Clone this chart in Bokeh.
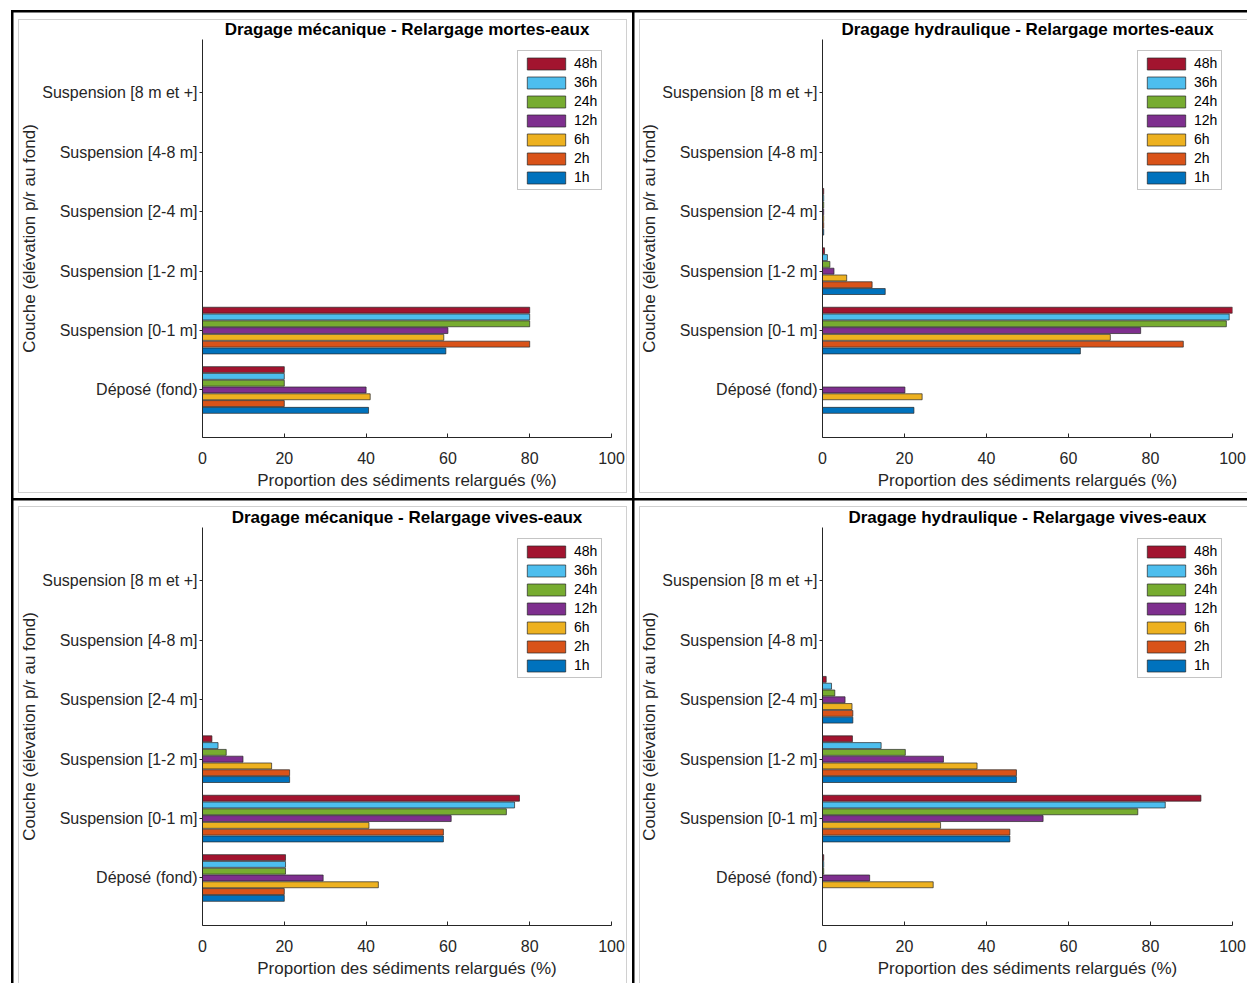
from bokeh.plotting import figure
from bokeh.models import Range1d, FixedTicker, Legend, LegendItem, ColumnDataSource
from bokeh.layouts import gridplot
from bokeh.transform import dodge
from bokeh.embed import file_html
from bokeh.resources import INLINE

# ---------------- data ----------------
layers = ["Déposé (fond)", "Suspension [0-1 m]", "Suspension [1-2 m]",
          "Suspension [2-4 m]", "Suspension [4-8 m]", "Suspension [8 m et +]"]
layer_pos = [1, 2, 3, 4, 5, 6]
hours = ["1h", "2h", "6h", "12h", "24h", "36h", "48h"]
colors = ["#0072BD", "#D95319", "#EDB120", "#7E2F8E", "#77AC30", "#4DBEEE", "#A2142F"]
x_ticks = [0, 20, 40, 60, 80, 100]

titles = ["Dragage mécanique - Relargage mortes-eaux",
          "Dragage hydraulique - Relargage mortes-eaux",
          "Dragage mécanique - Relargage vives-eaux",
          "Dragage hydraulique - Relargage vives-eaux"]
x_label = "Proportion des sédiments relargués (%)"
y_label = "Couche (élévation p/r au fond)"

# values per hour, in the order of `layers`
meca_mortes = {
    "1h":  [40.6, 59.5, 0, 0, 0, 0],
    "2h":  [20.0, 80.0, 0, 0, 0, 0],
    "6h":  [41.0, 59.0, 0, 0, 0, 0],
    "12h": [40.0, 60.0, 0, 0, 0, 0],
    "24h": [20.0, 80.0, 0, 0, 0, 0],
    "36h": [20.0, 80.0, 0, 0, 0, 0],
    "48h": [20.0, 80.0, 0, 0, 0, 0],
}
hydro_mortes = {
    "1h":  [22.3, 62.9, 15.3, 0.3, 0, 0],
    "2h":  [0.0, 88.0, 12.1, 0.3, 0, 0],
    "6h":  [24.3, 70.2, 5.9, 0.3, 0, 0],
    "12h": [20.1, 77.6, 2.8, 0.3, 0, 0],
    "24h": [0.0, 98.5, 1.8, 0.3, 0, 0],
    "36h": [0.0, 99.2, 1.2, 0.3, 0, 0],
    "48h": [0.0, 100.0, 0.5, 0.3, 0, 0],
}
meca_vives = {
    "1h":  [20.0, 58.9, 21.3, 0, 0, 0],
    "2h":  [20.0, 58.9, 21.3, 0, 0, 0],
    "6h":  [43.0, 40.7, 16.9, 0, 0, 0],
    "12h": [29.5, 60.8, 9.9, 0, 0, 0],
    "24h": [20.3, 74.3, 5.8, 0, 0, 0],
    "36h": [20.3, 76.3, 3.8, 0, 0, 0],
    "48h": [20.3, 77.5, 2.3, 0, 0, 0],
}
hydro_vives = {
    "1h":  [0.0, 45.7, 47.3, 7.4, 0, 0],
    "2h":  [0.0, 45.7, 47.3, 7.4, 0, 0],
    "6h":  [27.0, 28.8, 37.7, 7.2, 0, 0],
    "12h": [11.5, 53.8, 29.5, 5.5, 0, 0],
    "24h": [0.3, 76.9, 20.2, 3.0, 0, 0],
    "36h": [0.3, 83.6, 14.3, 2.2, 0, 0],
    "48h": [0.3, 92.3, 7.3, 0.9, 0, 0],
}

# ---------------- style ----------------
FONT = "Liberation Sans"
TXT = "#262626"
GRAY = "#d0d0d0"
PITCH = 0.8 / 7
BAR_H = 0.1


def frame_shadow(left_white, top_white, ring_l, ring_t, ring_r, ring_b):
    """CSS inset shadows drawing the black separator lines (left/top) and the
    light grey inner frame of each panel."""
    a, b, c, d = [], [], [], []
    if left_white:
        a.append(f"inset {left_white}px 0 0 0 white")
    b.append(f"inset {left_white + 2.5}px 0 0 0 black")
    if top_white:
        a.append(f"inset 0 {top_white}px 0 0 white")
    b.append(f"inset 0 {top_white + 2.5}px 0 0 black")
    if ring_l is not None:
        c.append(f"inset {ring_l}px 0 0 0 white"); d.append(f"inset {ring_l + 1}px 0 0 0 {GRAY}")
    if ring_t is not None:
        c.append(f"inset 0 {ring_t}px 0 0 white"); d.append(f"inset 0 {ring_t + 1}px 0 0 {GRAY}")
    if ring_r is not None:
        c.append(f"inset -{ring_r}px 0 0 0 white"); d.append(f"inset -{ring_r + 1}px 0 0 0 {GRAY}")
    if ring_b is not None:
        c.append(f"inset 0 -{ring_b}px 0 0 white"); d.append(f"inset 0 -{ring_b + 1}px 0 0 {GRAY}")
    return ", ".join(a + b + c + d)


def build(title, data, width, height, mb_left, mb_right, mb_top, mb_bottom, shadow):
    p = figure(width=width, height=height,
               x_range=Range1d(0, 100), y_range=Range1d(0.2, 6.9),
               output_backend="svg", toolbar_location=None, tools="",
               min_border_left=mb_left, min_border_right=mb_right,
               min_border_top=mb_top, min_border_bottom=mb_bottom,
               background_fill_color=None, border_fill_color=None,
               outline_line_color=None, title=title,
               styles={"box-shadow": shadow})
    p.grid.visible = False

    items = []
    for i, h in enumerate(hours):
        src = ColumnDataSource(dict(pos=layer_pos, v=data[h]))
        r = p.hbar(y=dodge("pos", (i - 3) * PITCH), left=0, right="v", height=BAR_H,
                   source=src, fill_color=colors[i], line_color="#262626",
                   line_width=0.7)
        items.append(LegendItem(label=h, renderers=[r]))

    legend = Legend(items=items[::-1], location=(315, 247), margin=0,
                    glyph_width=48, glyph_height=15, label_height=15,
                    spacing=3, padding=4, label_standoff=4,
                    label_text_font=FONT, label_text_font_size="14px",
                    label_text_color="#000000",
                    border_line_color="#8a8a8a", border_line_width=1,
                    background_fill_color="white", background_fill_alpha=1.0)
    p.add_layout(legend)

    p.title.align = "center"
    p.title.text_font = FONT
    p.title.text_font_size = "17px"
    p.title.text_font_style = "bold"
    p.title.text_color = "#000000"
    p.title.standoff = 2

    xa = p.xaxis[0]
    xa.ticker = FixedTicker(ticks=x_ticks)
    xa.major_tick_in = 4
    xa.major_tick_out = 0
    xa.minor_tick_line_color = None
    xa.major_label_standoff = 14
    xa.major_label_text_font = FONT
    xa.major_label_text_font_size = "16px"
    xa.major_label_text_color = TXT
    xa.axis_line_color = TXT
    xa.major_tick_line_color = TXT
    xa.axis_label = x_label
    xa.axis_label_standoff = 4
    xa.axis_label_text_font = FONT
    xa.axis_label_text_font_size = "17px"
    xa.axis_label_text_font_style = "normal"
    xa.axis_label_text_color = TXT

    ya = p.yaxis[0]
    ya.ticker = FixedTicker(ticks=layer_pos)
    ya.major_label_overrides = {pos: name for pos, name in zip(layer_pos, layers)}
    ya.major_tick_in = 0
    ya.major_tick_out = 3
    ya.minor_tick_line_color = None
    ya.major_label_standoff = 2
    ya.major_label_text_font = FONT
    ya.major_label_text_font_size = "16px"
    ya.major_label_text_color = TXT
    ya.axis_line_color = TXT
    ya.major_tick_line_color = TXT
    ya.axis_label = y_label
    ya.axis_label_standoff = 0
    ya.axis_label_text_font = FONT
    ya.axis_label_text_font_size = "17px"
    ya.axis_label_text_font_style = "normal"
    ya.axis_label_text_color = TXT
    return p


p1 = build(titles[0], meca_mortes, 632, 498, 201, 21, 39, 61,
           frame_shadow(11, 10, 18, 19, 5, 5))
p2 = build(titles[1], hydro_mortes, 615, 498, 190, 15, 39, 61,
           frame_shadow(0, 10, 7, 19, None, 5))
p3 = build(titles[2], meca_vives, 632, 485, 202, 20, 29, 58,
           frame_shadow(11, 0, 18, 8, 5, None))
p4 = build(titles[3], hydro_vives, 615, 485, 190, 15, 29, 58,
           frame_shadow(0, 0, 7, 8, None, None))

grid = gridplot([[p1, p2], [p3, p4]], toolbar_location=None)

open("out.html", "w").write(file_html(grid, INLINE))
